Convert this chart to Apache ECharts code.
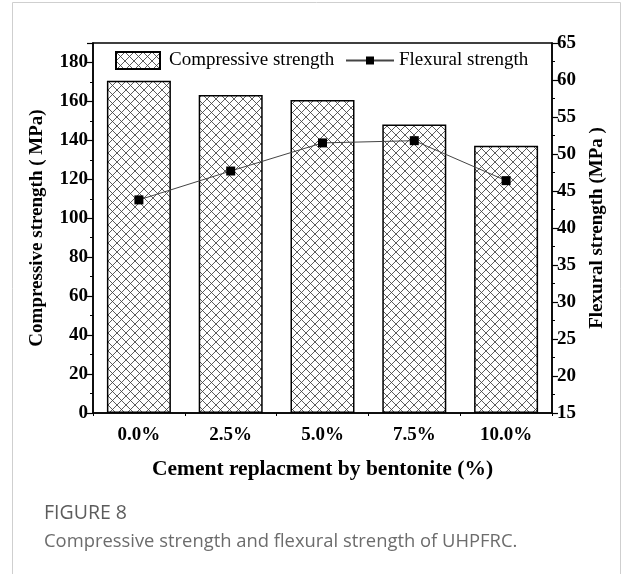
<!DOCTYPE html>
<html>
<head>
<meta charset="utf-8">
<script src="https://cdn.jsdelivr.net/npm/echarts@6/dist/echarts.min.js"></script>
<style>
html,body{margin:0;padding:0;background:#fff;}
#main{width:625px;height:574px;}
</style>
</head>
<body>
<div id="main"></div>
<script>
// ---- data ----
const categories = ['0.0%', '2.5%', '5.0%', '7.5%', '10.0%'];
const compressive = [170.6, 163.3, 160.7, 148.2, 137.2];
const flexural = [43.8, 47.7, 51.5, 51.8, 46.4];
const leftTicks = { min: 0, max: 190, interval: 20 };
const rightTicks = { min: 15, max: 65, interval: 5 };
const captionTitle = 'FIGURE 8';
const captionText = 'Compressive strength and flexural strength of UHPFRC.';

// crosshatch pattern
const P = 9;
const pc = document.createElement('canvas');
pc.width = P; pc.height = P;
const ctx = pc.getContext('2d');
ctx.fillStyle = '#ffffff';
ctx.fillRect(0, 0, P, P);
ctx.strokeStyle = '#404040';
ctx.lineWidth = 0.85;
ctx.beginPath();
ctx.moveTo(0, 0); ctx.lineTo(P, P);
ctx.moveTo(P, 0); ctx.lineTo(0, P);
ctx.stroke();
const hatch = { image: pc, repeat: 'repeat' };

const serif = 'Liberation Serif, Times New Roman, serif';
const sans = 'Open Sans, Noto Sans, sans-serif';
const chart = echarts.init(document.getElementById('main'));
chart.setOption({
  animation: false,
  backgroundColor: '#fff',
  grid: { left: 93, right: 73, top: 43, bottom: 161, show: true, borderColor: '#000', borderWidth: 1.5, backgroundColor: 'transparent' },
  legend: [
    { data: [{ name: 'Compressive strength', icon: 'rect' }], left: 115, top: 51, padding: 0, itemWidth: 44, itemHeight: 17,
      textStyle: { fontFamily: serif, fontSize: 19, color: '#000', padding: [0, 0, 0, 4] } },
    { data: ['Flexural strength'], left: 345, top: 51, padding: 0, itemWidth: 48, itemHeight: 10,
      textStyle: { fontFamily: serif, fontSize: 19, color: '#000' } }
  ],
  xAxis: [
    { type: 'category', data: categories, position: 'bottom',
      axisLine: { lineStyle: { color: '#000', width: 1.5 } },
      axisTick: { alignWithLabel: true, length: 5, lineStyle: { color: '#000', width: 1.2 } },
      axisLabel: { fontFamily: serif, fontWeight: 'bold', fontSize: 19, color: '#000', margin: 13 },
      name: 'Cement replacment by bentonite (%)', nameLocation: 'middle', nameGap: 45,
      nameTextStyle: { fontFamily: serif, fontWeight: 'bold', fontSize: 21.5, color: '#000' } },
    { type: 'category', data: categories, position: 'bottom',
      axisLine: { show: false },
      axisTick: { show: true, length: 3, lineStyle: { color: '#000', width: 1 } },
      axisLabel: { show: false } }
  ],
  yAxis: [
    { type: 'value', min: leftTicks.min, max: leftTicks.max, interval: leftTicks.interval,
      axisLine: { show: true, lineStyle: { color: '#000', width: 1.5 } },
      axisTick: { show: true, length: 6, lineStyle: { color: '#000', width: 1.2 } },
      minorTick: { show: true, splitNumber: 2, length: 3, lineStyle: { color: '#000', width: 1 } },
      splitLine: { show: false },
      axisLabel: { fontFamily: serif, fontWeight: 'bold', fontSize: 19, color: '#000', margin: 5,
        formatter: v => (v > 180 ? '' : String(v)) },
      name: 'Compressive strength ( MPa)', nameLocation: 'middle', nameGap: 46,
      nameTextStyle: { fontFamily: serif, fontWeight: 'bold', fontSize: 19, color: '#000' } },
    { type: 'value', position: 'right', min: rightTicks.min, max: rightTicks.max, interval: rightTicks.interval,
      axisLine: { show: true, lineStyle: { color: '#000', width: 1.5 } },
      axisTick: { show: true, length: 6, lineStyle: { color: '#000', width: 1.2 } },
      minorTick: { show: true, splitNumber: 2, length: 3, lineStyle: { color: '#000', width: 1 } },
      splitLine: { show: false },
      axisLabel: { fontFamily: serif, fontWeight: 'bold', fontSize: 19, color: '#000', margin: 5 },
      name: 'Flexural strength (MPa )', nameLocation: 'middle', nameGap: 36,
      nameTextStyle: { fontFamily: serif, fontWeight: 'bold', fontSize: 19, color: '#000' } }
  ],
  series: [
    { name: 'Compressive strength', type: 'bar', data: compressive, barWidth: 64,
      xAxisIndex: 0, yAxisIndex: 0,
      itemStyle: { color: hatch, borderColor: '#000', borderWidth: 1.5 } },
    { name: 'Flexural strength', type: 'line', data: flexural, xAxisIndex: 0, yAxisIndex: 1,
      symbol: 'rect', symbolSize: 9,
      lineStyle: { color: '#444', width: 1 },
      itemStyle: { color: '#000' } }
  ],
  graphic: [
    { type: 'rect', shape: { x: 12.5, y: 2.5, width: 608, height: 620 }, silent: true,
      style: { fill: 'none', stroke: '#cfcfcf', lineWidth: 1 }, z: -1 },
    { type: 'text', left: 44, top: 503, style: { text: captionTitle, fontFamily: sans, fontSize: 19.5, fill: '#5c5c5c' } },
    { type: 'text', left: 44, top: 533, style: { text: captionText, fontFamily: sans, fontSize: 18.4, fill: '#6c6c6c' } }
  ]
});
</script>
</body>
</html>
